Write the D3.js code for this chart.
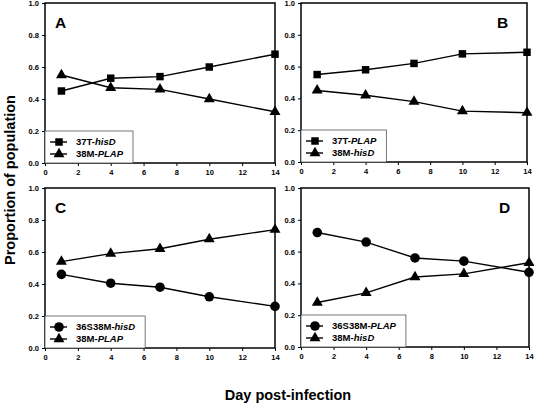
<!DOCTYPE html>
<html><head><meta charset="utf-8">
<script src="https://cdn.jsdelivr.net/npm/d3@7"></script>
<style>body{margin:0;background:#fff}svg{display:block}text{font-family:"Liberation Sans",Arial,sans-serif}</style>
</head><body>
<svg id="c" width="534" height="404"></svg>
<script>
const days = [1, 4, 7, 10, 14];
const xTicks = [0, 2, 4, 6, 8, 10, 12, 14];
const yTicks = [0.0, 0.2, 0.4, 0.6, 0.8, 1.0];
const panelLetters = ["A", "B", "C", "D"];

const aSquareName = ["37T-", "hisD"];
const aSquareVals = [0.45, 0.53, 0.54, 0.60, 0.68];
const aTriName = ["38M-", "PLAP"];
const aTriVals = [0.55, 0.47, 0.46, 0.40, 0.32];

const bSquareName = ["37T-", "PLAP"];
const bSquareVals = [0.55, 0.58, 0.62, 0.68, 0.69];
const bTriName = ["38M-", "hisD"];
const bTriVals = [0.45, 0.42, 0.38, 0.32, 0.31];

const cCircleName = ["36S38M-", "hisD"];
const cCircleVals = [0.46, 0.405, 0.38, 0.32, 0.26];
const cTriName = ["38M-", "PLAP"];
const cTriVals = [0.54, 0.59, 0.62, 0.68, 0.74];

const dCircleName = ["36S38M-", "PLAP"];
const dCircleVals = [0.72, 0.66, 0.56, 0.54, 0.47];
const dTriName = ["38M-", "hisD"];
const dTriVals = [0.28, 0.34, 0.44, 0.46, 0.53];

const panels = [
  {letter: panelLetters[0], x0: 45, x1: 275, y0: 3, y1: 163, letterPos: "left",
   series: [{name: aSquareName, vals: aSquareVals, m: "square"}, {name: aTriName, vals: aTriVals, m: "tri"}]},
  {letter: panelLetters[1], x0: 301, x1: 527, y0: 3, y1: 162, letterPos: "right",
   series: [{name: bSquareName, vals: bSquareVals, m: "square"}, {name: bTriName, vals: bTriVals, m: "tri"}]},
  {letter: panelLetters[2], x0: 45, x1: 275, y0: 188, y1: 348, letterPos: "left",
   series: [{name: cCircleName, vals: cCircleVals, m: "circle"}, {name: cTriName, vals: cTriVals, m: "tri"}]},
  {letter: panelLetters[3], x0: 301, x1: 529, y0: 188, y1: 347, letterPos: "right",
   series: [{name: dCircleName, vals: dCircleVals, m: "circle"}, {name: dTriName, vals: dTriVals, m: "tri"}]}
];

const svg = d3.select("#c");

function marker(g, type, x, y) {
  if (type === "circle") {
    g.append("circle").attr("cx", x).attr("cy", y).attr("r", 4.8).attr("fill", "#000");
  } else {
    const sym = type === "square" ? d3.symbol().type(d3.symbolSquare).size(56)
                                  : d3.symbol().type(d3.symbolTriangle).size(52);
    g.append("path").attr("d", sym()).attr("transform", `translate(${x},${y})`).attr("fill", "#000");
  }
}

panels.forEach(p => {
  const x = d3.scaleLinear().domain([0, 14]).range([p.x0, p.x1]);
  const y = d3.scaleLinear().domain([0, 1]).range([p.y1, p.y0]);
  const g = svg.append("g");

  const ya = g.append("g").attr("transform", `translate(${p.x0},0)`)
    .call(d3.axisLeft(y).tickValues(yTicks).tickFormat(d3.format(".1f")).tickSize(3).tickPadding(3));
  const xa = g.append("g").attr("transform", `translate(0,${p.y1})`)
    .call(d3.axisBottom(x).tickValues(xTicks).tickFormat(d3.format("d")).tickSize(3).tickPadding(4));
  [ya, xa].forEach(a => {
    a.select(".domain").remove();
    a.selectAll("line").attr("stroke", "#000").attr("stroke-width", 1);
    a.selectAll("text").attr("font-size", 7.5).attr("font-weight", "bold")
      .attr("font-family", "Liberation Sans, Arial, sans-serif").attr("fill", "#000");
  });

  g.append("rect").attr("x", p.x0).attr("y", p.y0)
    .attr("width", p.x1 - p.x0).attr("height", p.y1 - p.y0)
    .attr("fill", "none").attr("stroke", "#000").attr("stroke-width", 1.5);

  p.series.forEach(s => {
    const line = d3.line().x((d, i) => x(days[i])).y(d => y(d));
    g.append("path").datum(s.vals).attr("d", line)
      .attr("fill", "none").attr("stroke", "#000").attr("stroke-width", 1.4);
    s.vals.forEach((v, i) => marker(g, s.m, x(days[i]), y(v)));
  });

  const lt = g.append("text").text(p.letter).attr("font-size", 15.5).attr("font-weight", "bold")
    .attr("fill", "#000");
  if (p.letterPos === "left") lt.attr("x", p.x0 + 10).attr("y", p.y0 + 25);
  else lt.attr("x", p.x1 - 30).attr("y", p.y0 + 25);

  const lg = g.append("g");
  const rowY = [p.y1 - 21, p.y1 - 9];
  let maxEnd = 0;
  p.series.forEach((s, i) => {
    lg.append("line").attr("x1", p.x0 + 5).attr("x2", p.x0 + 22)
      .attr("y1", rowY[i]).attr("y2", rowY[i]).attr("stroke", "#000").attr("stroke-width", 1.4);
    marker(lg, s.m, p.x0 + 14, rowY[i]);
    const t = lg.append("text").attr("x", p.x0 + 31).attr("y", rowY[i] + 3.4)
      .attr("font-size", 9.5).attr("font-weight", "bold").attr("fill", "#000");
    t.append("tspan").text(s.name[0]);
    t.append("tspan").attr("font-style", "italic").text(s.name[1]);
    maxEnd = Math.max(maxEnd, p.x0 + 31 + t.node().getComputedTextLength());
  });
  lg.insert("rect", ":first-child").attr("x", p.x0).attr("y", p.y1 - 32)
    .attr("width", maxEnd + 10 - p.x0).attr("height", 32)
    .attr("fill", "#fff").attr("stroke", "#555").attr("stroke-width", 0.8);
});

svg.append("text").attr("transform", "translate(15,180) rotate(-90)")
  .attr("text-anchor", "middle").attr("font-size", 14.5).attr("font-weight", "bold")
  .text("Proportion of population");
svg.append("text").attr("x", 288).attr("y", 400)
  .attr("text-anchor", "middle").attr("font-size", 14.5).attr("font-weight", "bold")
  .text("Day post-infection");
</script>
</body></html>
